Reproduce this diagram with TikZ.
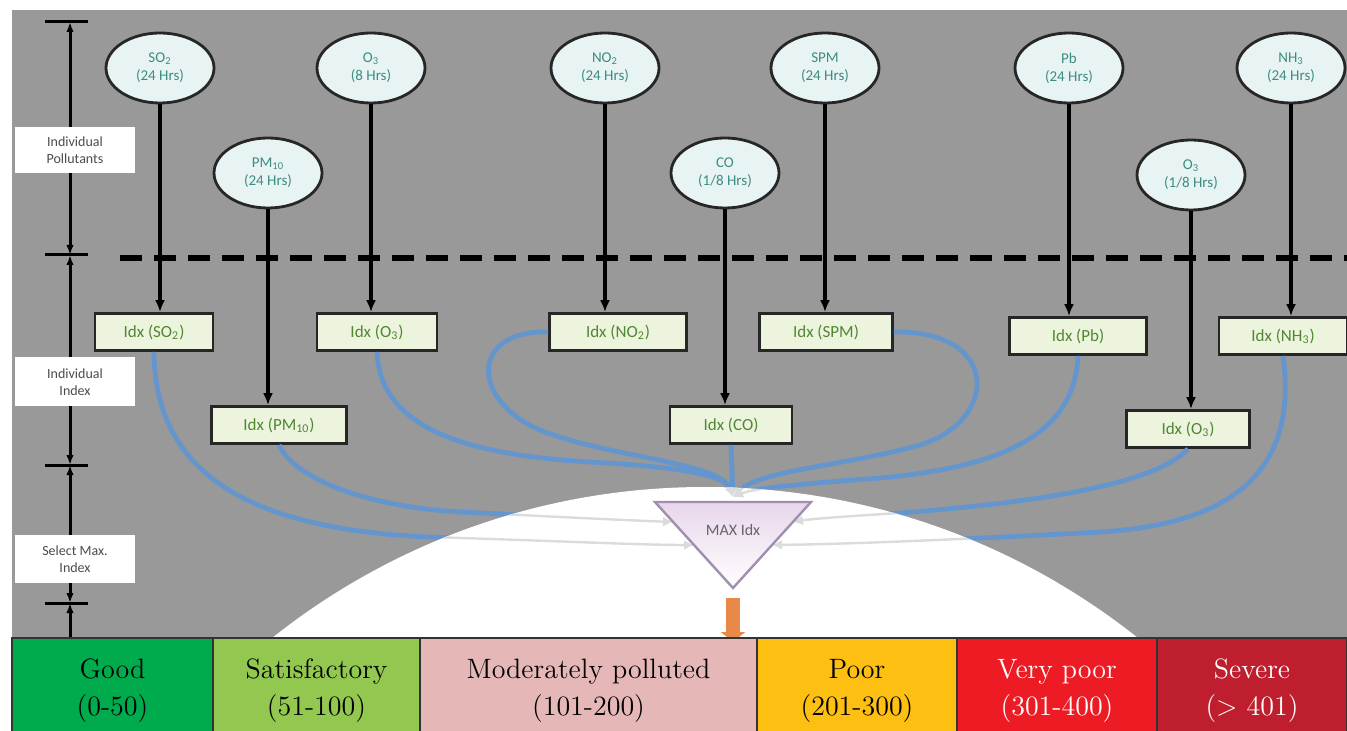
\documentclass[tikz,border=0pt]{standalone}
\usepackage{fontspec}
\newfontfamily\diagfont{Carlito}
\usetikzlibrary{shapes.geometric,arrows.meta,positioning}
\definecolor{bggray}{RGB}{153,153,153}
\definecolor{ellfill}{RGB}{232,244,244}
\definecolor{ellteal}{RGB}{60,140,130}
\definecolor{boxfill}{RGB}{236,244,222}
\definecolor{boxgreen}{RGB}{80,135,50}
\definecolor{flowblue}{RGB}{100,150,205}
\definecolor{trtop}{RGB}{232,214,234}
\definecolor{trline}{RGB}{160,143,176}
\definecolor{orangearr}{RGB}{232,137,74}
\definecolor{cgood}{RGB}{0,171,78}
\definecolor{csat}{RGB}{146,200,80}
\definecolor{cmod}{RGB}{229,184,183}
\definecolor{cpoor}{RGB}{252,191,18}
\definecolor{cvpoor}{RGB}{237,28,36}
\definecolor{csevere}{RGB}{190,30,45}

% the nine feeds into the max operator, drawn with the style given
\newcommand{\feedcurves}[1]{%
  \draw[#1] (iSO.south) .. controls (155,480) and (260,530) .. (430,537)
    .. controls (560,541) and (640,545) .. (inL2);
  \draw[#1] (iPM.south) .. controls (295,480) and (370,507) .. (460,512)
    .. controls (560,517) and (620,520) .. (inL1);
  \draw[#1] (iO.south) .. controls (380,430) and (470,455) .. (590,462)
    .. controls (680,467) and (725,475) .. (mtop);
  \draw[#1] (iNO.west) .. controls (470,330) and (470,400) .. (540,430)
    .. controls (610,458) and (720,462) .. (mtop);
  \draw[#1] (iCO.south) -- (mtop);
  \draw[#1] (iSPM.east) .. controls (1000,330) and (1000,420) .. (920,445)
    .. controls (850,465) and (760,470) .. (mtop);
  \draw[#1] (iPb.south) .. controls (1075,440) and (990,468) .. (880,478)
    .. controls (800,484) and (755,488) .. (mtop);
  \draw[#1] (iOb.south) .. controls (1150,490) and (1000,505) .. (900,513)
    .. controls (850,516) and (810,519) .. (inR1);
  \draw[#1] (iNH.south) .. controls (1300,480) and (1220,525) .. (1100,532)
    .. controls (950,540) and (850,544) .. (inR2);
}

\begin{document}
\begin{tikzpicture}[x=0.5pt,y=-0.5pt,>=Latex,
  pollutant/.style={ellipse, draw=black!85, line width=1.4pt, fill=ellfill,
    minimum width=54pt, minimum height=35pt, inner sep=0pt, align=center,
    font=\diagfont\fontsize{7.5}{9}\selectfont, text=ellteal},
  idxbox/.style={rectangle, draw=black!85, line width=1.4pt, fill=boxfill,
    minimum height=18.5pt, inner sep=1pt, font=\diagfont\fontsize{8.5}{10}\selectfont,
    text=boxgreen},
  sidelabel/.style={fill=white, minimum width=60pt, minimum height=23pt, align=center,
    inner sep=1pt, font=\diagfont\fontsize{7}{8.5}\selectfont, text=black!70},
  feed/.style={-{Latex[length=6pt,width=5pt]}, line width=2pt, black},
  flow/.style={-{Latex[length=5pt,width=5pt]}, line width=2.4pt, flowblue},
  faint/.style={-{Latex[length=5pt,width=5pt]}, line width=1.2pt, black!14},
  band/.style={draw=black!80, line width=1pt, minimum height=53pt, align=center,
    inner sep=0pt, font=\fontsize{14}{18.5}\selectfont}]
  \useasboundingbox (0,0) rectangle (1347,731);
  \fill[white] (0,0) rectangle (1347,731);

  % grey panel
  \fill[bggray] (12,10) rectangle (1347,638);

  % pollutants (24 h / 8 h averages)
  \node[pollutant] (eSO)  at (160,68)  {SO\textsubscript{2}\\(24 Hrs)};
  \node[pollutant] (eO)   at (371,68)  {O\textsubscript{3}\\(8 Hrs)};
  \node[pollutant] (ePM)  at (268,173) {PM\textsubscript{10}\\(24 Hrs)};
  \node[pollutant] (eNO)  at (605,68)  {NO\textsubscript{2}\\(24 Hrs)};
  \node[pollutant] (eCO)  at (725,173) {CO\\(1/8 Hrs)};
  \node[pollutant] (eSPM) at (825,68)  {SPM\\(24 Hrs)};
  \node[pollutant] (ePb)  at (1069,68) {Pb\\(24 Hrs)};
  \node[pollutant] (eOb)  at (1191,175) {O\textsubscript{3}\\(1/8 Hrs)};
  \node[pollutant] (eNH)  at (1291,68) {NH\textsubscript{3}\\(24 Hrs)};

  % sub-indices
  \node[idxbox, minimum width=59pt]   (iSO)  at (154,332)  {Idx (SO\textsubscript{2})};
  \node[idxbox, minimum width=60pt]   (iO)   at (377,332)  {Idx (O\textsubscript{3})};
  \node[idxbox, minimum width=67.5pt] (iPM)  at (279,425)  {Idx (PM\textsubscript{10})};
  \node[idxbox, minimum width=68.5pt] (iNO)  at (618,332)  {Idx (NO\textsubscript{2})};
  \node[idxbox, minimum width=61pt]   (iCO)  at (731,425)  {Idx (CO)};
  \node[idxbox, minimum width=66.5pt] (iSPM) at (826,332)  {Idx (SPM)};
  \node[idxbox, minimum width=68.5pt] (iPb)  at (1078,336) {Idx (Pb)};
  \node[idxbox, minimum width=61.5pt] (iOb)  at (1188,429) {Idx (O\textsubscript{3})};
  \node[idxbox, minimum width=64pt]   (iNH)  at (1283,336) {Idx (NH\textsubscript{3})};

  % triangle corners and inlets
  \coordinate (tl) at (655,502);
  \coordinate (tr) at (811,502);
  \coordinate (tp) at (733,588);
  \coordinate (mtop) at (733,497);
  \coordinate (inL1) at (673,522);
  \coordinate (inL2) at (694,545);
  \coordinate (inR1) at (793,522);
  \coordinate (inR2) at (772,545);

  % blue feeds into the max operator
  \feedcurves{flow}

  % white dome, the feeds show faintly through it
  \begin{scope}
    \clip (12,10) rectangle (1347,638);
    \fill[white] (705,1183) circle[radius=348pt];
    \clip (705,1183) circle[radius=348pt];
    \feedcurves{faint}
  \end{scope}

  % max operator
  \draw[draw=trline, line width=1.2pt, top color=trtop, bottom color=white]
    (tl) -- (tr) -- (tp) -- cycle;
  \node[font=\diagfont\fontsize{8}{9}\selectfont, text=black!60] (maxidx) at (733,530) {MAX Idx};

  % pollutant to sub-index
  \foreach \e/\i in {eSO/iSO, eO/iO, ePM/iPM, eNO/iNO, eCO/iCO, eSPM/iSPM, ePb/iPb, eOb/iOb, eNH/iNH}
    \draw[feed] (\e.south) -- (\e.south |- \i.north);

  % dashed separator
  \draw[line width=3pt, dash pattern=on 11pt off 6pt] (120,258) -- (1347,258);

  % level scale on the left
  \coordinate (t0) at (70,22);
  \coordinate (t1) at (70,255);
  \coordinate (t2) at (70,465);
  \coordinate (t3) at (70,603);
  \coordinate (t4) at (70,638);
  \draw[line width=1.5pt, {Latex[length=5pt]}-{Latex[length=5pt]}] (t0) -- (t1);
  \draw[line width=1.5pt, {Latex[length=5pt]}-{Latex[length=5pt]}] (t1) -- (t2);
  \draw[line width=1.5pt, {Latex[length=5pt]}-{Latex[length=5pt]}] (t2) -- (t3);
  \draw[line width=1.5pt, {Latex[length=5pt]}-] (t3) -- (t4);
  \foreach \t in {t0,t1,t2,t3}
    \draw[line width=1.5pt] ([xshift=-12.5pt]\t) -- ([xshift=9pt]\t);

  \node[sidelabel] (lpoll) at (75,150) {Individual\\Pollutants};
  \node[sidelabel, minimum height=24.5pt] (lidx) at (75,382) {Individual\\Index};
  \node[sidelabel, minimum height=24pt] (lmax) at (75,559) {Select Max.\\Index};

  % result arrow
  \coordinate (barin) at (733,642);
  \draw[line width=7pt, orangearr, -{Triangle[length=5pt,width=12pt]}]
    ([yshift=-5pt]tp) -- (barin);

  % AQI categories
  \node[band, fill=cgood,   minimum width=100.5pt] (good)   at (112.5,691) {Good\\(0-50)};
  \node[band, fill=csat,    minimum width=103.5pt] (sat)    at (316.5,691) {Satisfactory\\(51-100)};
  \node[band, fill=cmod,    minimum width=168.5pt] (mod)    at (588.5,691) {Moderately polluted\\(101-200)};
  \node[band, fill=cpoor,   minimum width=100pt]   (poor)   at (857,691)   {Poor\\(201-300)};
  \node[band, fill=cvpoor,  minimum width=100pt, text=white] (vpoor) at (1057,691) {Very poor\\(301-400)};
  \node[band, fill=csevere, minimum width=95pt,  text=white] (severe) at (1252,691) {Severe\\(> 401)};
\end{tikzpicture}
\end{document}
